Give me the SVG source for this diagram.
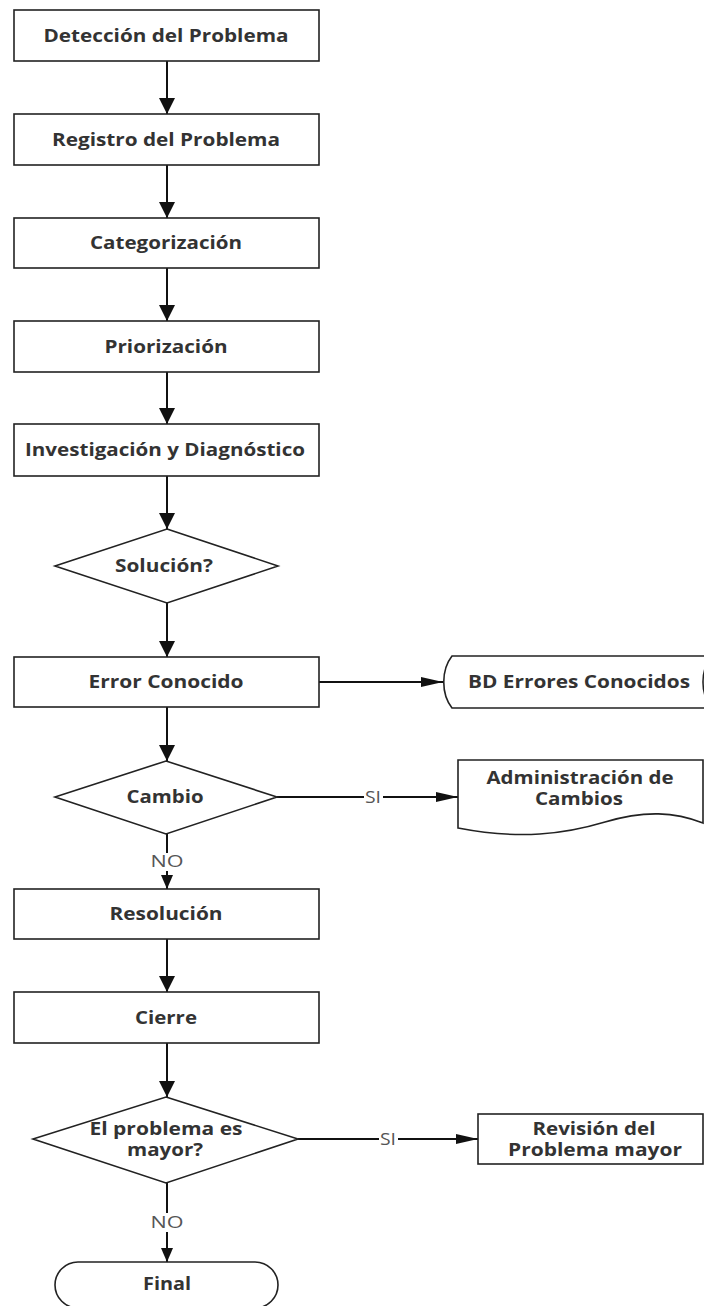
<svg xmlns="http://www.w3.org/2000/svg" width="704" height="1306" viewBox="0 0 704 1306">
  <style>
    .shape { fill: #ffffff; stroke: #222222; stroke-width: 1.6; }
    .lbl { font-family: "Open Sans", "Liberation Sans", sans-serif; font-weight: 700; font-size: 17px; fill: #333333; text-anchor: middle; }
    .edge { fill: none; stroke: #111111; stroke-width: 2; }
    .tag { font-family: "Open Sans", "Liberation Sans", sans-serif; font-size: 16px; fill: #555555; text-anchor: middle; }
  </style>
  <defs>
    <marker id="headV" markerUnits="userSpaceOnUse" markerWidth="16" markerHeight="16" refX="16" refY="8" orient="auto">
      <path d="M0,0 L16,8 L0,16 Z" fill="#111111"/>
    </marker>
    <marker id="headH" markerUnits="userSpaceOnUse" markerWidth="22" markerHeight="10" refX="22" refY="5" orient="auto">
      <path d="M0,0 L22,5 L0,10 Z" fill="#111111"/>
    </marker>
    <marker id="headS" markerUnits="userSpaceOnUse" markerWidth="14" markerHeight="12" refX="14" refY="6" orient="auto">
      <path d="M0,0 L14,6 L0,12 Z" fill="#111111"/>
    </marker>
  </defs>

  <rect width="704" height="1306" fill="#ffffff"/>

  <!-- connectors -->
  <g id="connectors">
    <path class="edge" d="M167,61 V114" marker-end="url(#headV)"/>
    <path class="edge" d="M167,165 V218" marker-end="url(#headV)"/>
    <path class="edge" d="M167,268 V321" marker-end="url(#headV)"/>
    <path class="edge" d="M167,372 V424" marker-end="url(#headV)"/>
    <path class="edge" d="M167,476 V529" marker-end="url(#headV)"/>
    <path class="edge" d="M167,603 V657" marker-end="url(#headV)"/>
    <path class="edge" d="M167,707 V761" marker-end="url(#headV)"/>
    <path class="edge" d="M167,834 V853"/>
    <path class="edge" d="M167,871 V889" marker-end="url(#headS)"/>
    <text class="tag" x="167" y="867" textLength="33" lengthAdjust="spacingAndGlyphs">NO</text>
    <path class="edge" d="M167,939 V992" marker-end="url(#headV)"/>
    <path class="edge" d="M167,1043 V1097" marker-end="url(#headV)"/>
    <path class="edge" d="M167,1183 V1213"/>
    <path class="edge" d="M167,1232 V1262" marker-end="url(#headS)"/>
    <text class="tag" x="167" y="1228" textLength="33" lengthAdjust="spacingAndGlyphs">NO</text>
    <path class="edge" d="M319,682 H443" marker-end="url(#headH)"/>
    <path class="edge" d="M277,797 H364"/>
    <path class="edge" d="M383,797 H458" marker-end="url(#headH)"/>
    <text class="tag" x="373" y="803" textLength="16" lengthAdjust="spacingAndGlyphs">SI</text>
    <path class="edge" d="M298,1139 H379"/>
    <path class="edge" d="M398,1139 H478" marker-end="url(#headH)"/>
    <text class="tag" x="388" y="1145" textLength="16" lengthAdjust="spacingAndGlyphs">SI</text>
  </g>

  <g id="deteccion">
    <rect class="shape" x="14" y="10" width="305" height="51"/>
    <text class="lbl" x="166" y="42" textLength="245" lengthAdjust="spacingAndGlyphs">Detección del Problema</text>
  </g>
  <g id="registro">
    <rect class="shape" x="14" y="114" width="305" height="51"/>
    <text class="lbl" x="166" y="146" textLength="228" lengthAdjust="spacingAndGlyphs">Registro del Problema</text>
  </g>
  <g id="categorizacion">
    <rect class="shape" x="14" y="218" width="305" height="50"/>
    <text class="lbl" x="166" y="249" textLength="152" lengthAdjust="spacingAndGlyphs">Categorización</text>
  </g>
  <g id="priorizacion">
    <rect class="shape" x="14" y="321" width="305" height="51"/>
    <text class="lbl" x="166" y="353" textLength="123" lengthAdjust="spacingAndGlyphs">Priorización</text>
  </g>
  <g id="investigacion">
    <rect class="shape" x="14" y="424" width="305" height="52"/>
    <text class="lbl" x="165" y="456" textLength="280" lengthAdjust="spacingAndGlyphs">Investigación y Diagnóstico</text>
  </g>
  <g id="solucion">
    <polygon class="shape" points="167,529 278,566 167,603 55,566"/>
    <text class="lbl" x="164" y="572" textLength="98" lengthAdjust="spacingAndGlyphs">Solución?</text>
  </g>
  <g id="error-conocido">
    <rect class="shape" x="14" y="657" width="305" height="50"/>
    <text class="lbl" x="166" y="688" textLength="155" lengthAdjust="spacingAndGlyphs">Error Conocido</text>
  </g>
  <g id="bd-errores">
    <path class="shape" d="M712,656 H452 C441,670 441,694 452,708 H712 C700,694 700,670 712,656 Z"/>
    <text class="lbl" x="579" y="688" textLength="222" lengthAdjust="spacingAndGlyphs">BD Errores Conocidos</text>
  </g>
  <g id="cambio">
    <polygon class="shape" points="166,761 277,797 166,834 55,797"/>
    <text class="lbl" x="165" y="803" textLength="77" lengthAdjust="spacingAndGlyphs">Cambio</text>
  </g>
  <g id="admin-cambios">
    <path class="shape" d="M458,760 H703 V823 C675,812 645,810 605,822 C565,834 520,840 458,828 Z"/>
    <text class="lbl" x="580" y="784" textLength="187" lengthAdjust="spacingAndGlyphs">Administración de</text>
    <text class="lbl" x="579" y="805" textLength="88" lengthAdjust="spacingAndGlyphs">Cambios</text>
  </g>
  <g id="resolucion">
    <rect class="shape" x="14" y="889" width="305" height="50"/>
    <text class="lbl" x="166" y="920" textLength="113" lengthAdjust="spacingAndGlyphs">Resolución</text>
  </g>
  <g id="cierre">
    <rect class="shape" x="14" y="992" width="305" height="51"/>
    <text class="lbl" x="166" y="1024" textLength="62" lengthAdjust="spacingAndGlyphs">Cierre</text>
  </g>
  <g id="problema-mayor">
    <polygon class="shape" points="166,1097 298,1139 166,1183 33,1139"/>
    <text class="lbl" x="166" y="1135" textLength="153" lengthAdjust="spacingAndGlyphs">El problema es</text>
    <text class="lbl" x="165" y="1156" textLength="76" lengthAdjust="spacingAndGlyphs">mayor?</text>
  </g>
  <g id="revision">
    <rect class="shape" x="478" y="1114" width="225" height="50"/>
    <text class="lbl" x="594" y="1135" textLength="123" lengthAdjust="spacingAndGlyphs">Revisión del</text>
    <text class="lbl" x="595" y="1156" textLength="174" lengthAdjust="spacingAndGlyphs">Problema mayor</text>
  </g>
  <g id="final">
    <rect class="shape" x="55" y="1262" width="223" height="46" rx="23" ry="23"/>
    <text class="lbl" x="167" y="1290" textLength="48" lengthAdjust="spacingAndGlyphs">Final</text>
  </g>
</svg>
